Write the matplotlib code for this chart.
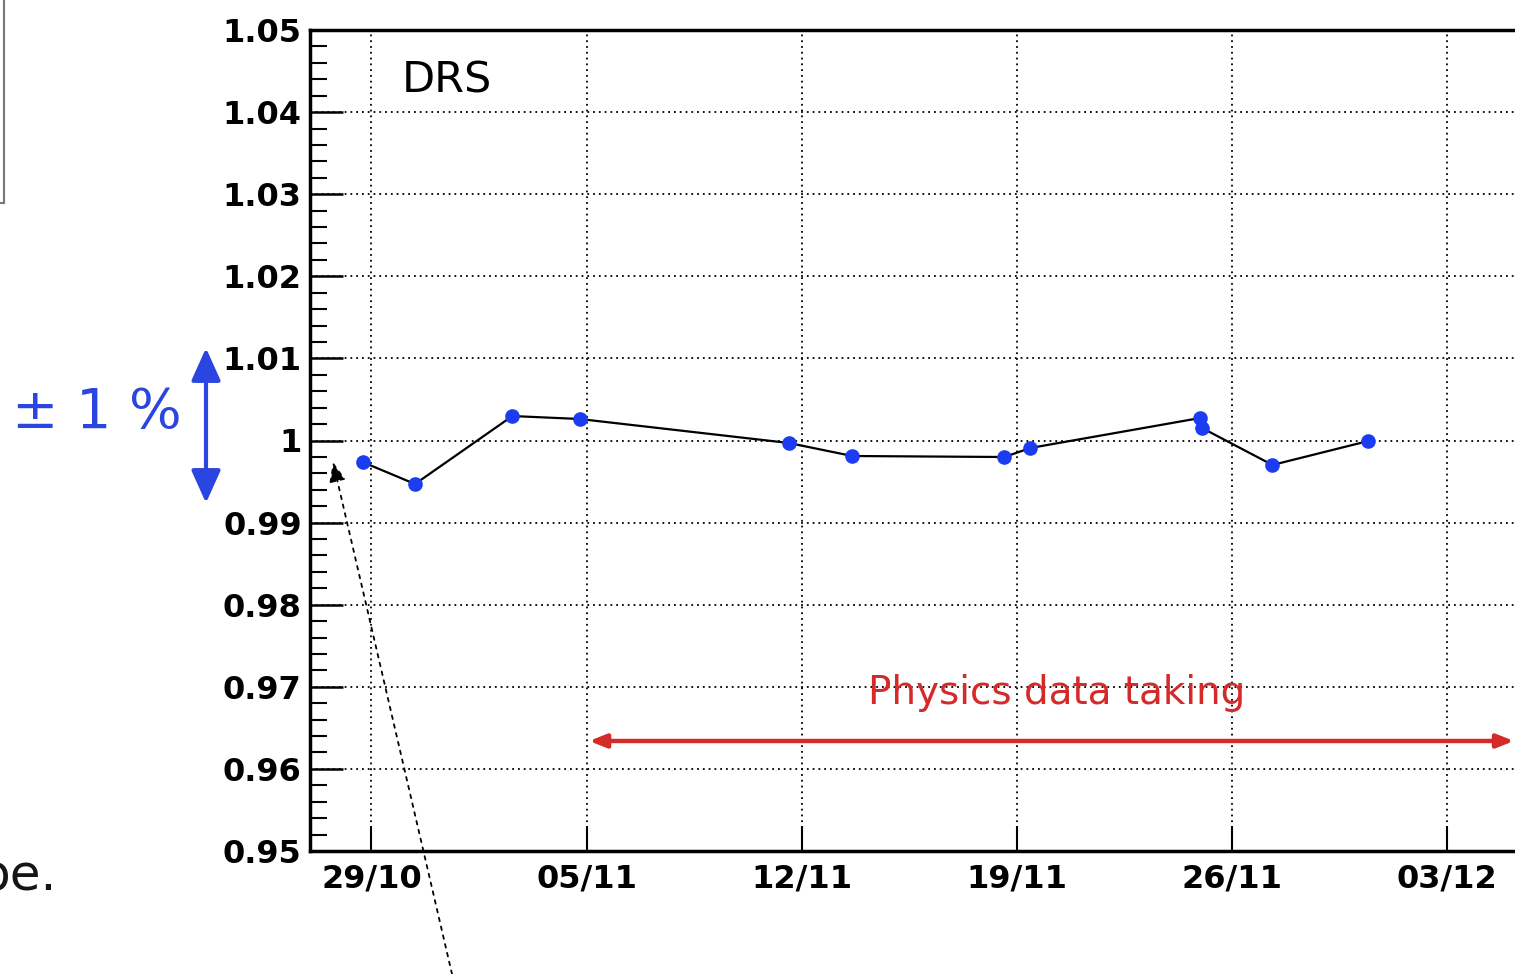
import matplotlib
matplotlib.use("Agg")
import matplotlib.pyplot as plt
import matplotlib.dates as mdates
from matplotlib.ticker import MultipleLocator
import numpy as np
import pandas as pd

# DRS gain stability, normalised to 1
dates = ["2009-10-28 17:00", "2009-10-30 10:00", "2009-11-02 14:00", "2009-11-04 18:30",
         "2009-11-11 13:45", "2009-11-13 15:30", "2009-11-18 14:10", "2009-11-19 10:30",
         "2009-11-24 23:00", "2009-11-25 00:30", "2009-11-27 07:30", "2009-11-30 10:20"]
ratio = [0.99738, 0.99470, 1.00298, 1.00262, 0.99970, 0.99811,
         0.99799, 0.99909, 1.00274, 1.00152, 0.99702, 0.99994]
ratio_err = [0.0002, 0.0004, 0.0005, 0.0003, 0.0002, 0.0002,
             0.0002, 0.0002, 0.0002, 0.0002, 0.0002, 0.0002]

x_range = ["2009-10-27 00:00", "2009-12-08 00:00"]
y_range = [0.95, 1.05]
physics_start = "2009-11-05 02:00"
physics_end = "2009-12-05 04:00"

W, H = 1515, 974
fig = plt.figure(figsize=(W / 100, H / 100), dpi=100)


def fpx(x, y):
    # pixel position (from top-left) to figure fraction
    return x / W, 1 - y / H


ax = fig.add_axes([310 / W, (H - 851) / H, 1291 / W, 821 / H])

t = pd.to_datetime(dates)
ax.errorbar(t, ratio, yerr=ratio_err, fmt="o-", color="black", lw=1.6,
            ecolor="#1b3cf0", elinewidth=1.5, capsize=0,
            mfc="#1b3cf0", mec="#1b3cf0", ms=9.5, zorder=5)

ax.set_xlim(pd.to_datetime(x_range))
ax.set_ylim(y_range)

ax.xaxis.set_major_locator(mdates.WeekdayLocator(byweekday=mdates.TH))
ax.xaxis.set_major_formatter(mdates.DateFormatter("%d/%m"))
ax.yaxis.set_major_locator(MultipleLocator(0.01))
ax.yaxis.set_minor_locator(MultipleLocator(0.002))
ax.yaxis.set_major_formatter(plt.FuncFormatter(lambda v, p: "1" if abs(v - 1) < 1e-9 else f"{v:.2f}"))

ax.tick_params(axis="x", which="major", direction="in", length=18, width=1.5, pad=9,
               labelsize=23)
ax.tick_params(axis="y", which="major", direction="in", length=24, width=1.8, pad=6,
               labelsize=23)
ax.tick_params(axis="y", which="minor", direction="in", length=12, width=1.5)
for lab in ax.get_xticklabels() + ax.get_yticklabels():
    lab.set_fontweight("bold")
    lab.set_family("DejaVu Sans")

ax.grid(True, which="major", color="black", ls=(0, (1, 2.2)), lw=1.3)
for side in ["left", "bottom", "top"]:
    ax.spines[side].set_linewidth(2.5)
ax.spines["right"].set_visible(False)

ax.text(pd.Timestamp("2009-10-30 00:00"), 1.0439, "DRS", fontsize=31,
        family="DejaVu Sans", va="center", ha="left")

# physics run period
ax.annotate("", xy=(pd.Timestamp(physics_start), 0.9634),
            xytext=(pd.Timestamp(physics_end), 0.9634),
            arrowprops=dict(arrowstyle="<|-|>,head_length=1.0,head_width=0.4",
                            color="#d42a2a", lw=3.2, shrinkA=0, shrinkB=0),
            annotation_clip=False)
ax.text(pd.Timestamp("2009-11-20 07:00"), 0.9692, "Physics data taking",
        fontsize=28, color="#d42a2a", family="DejaVu Sans", ha="center", va="center")

# +-1 % band marker left of the axis
fig.text(*fpx(97, 413), "± 1 %", fontsize=40, color="#2b45e0",
         family="DejaVu Sans", ha="center", va="center")
fig.add_artist(matplotlib.patches.FancyArrowPatch(
    fpx(206, 348), fpx(206, 503), transform=fig.transFigure,
    arrowstyle="<|-|>,head_length=1.0,head_width=0.45", color="#2b45e0",
    lw=3, shrinkA=0, shrinkB=0, mutation_scale=20))

# dotted pointer from below
fig.add_artist(matplotlib.patches.FancyArrowPatch(
    fpx(452, 974), fpx(333, 462), transform=fig.transFigure,
    arrowstyle="-|>,head_length=0.6,head_width=0.25", color="black",
    lw=1.3, ls=(0, (2, 3)), shrinkA=0, shrinkB=0, mutation_scale=20))

# pieces of neighbouring slide content
fig.add_artist(matplotlib.lines.Line2D([4 / W, 4 / W], [1, 1 - 203 / H],
                                       transform=fig.transFigure, color="#777777", lw=1.5))
fig.add_artist(matplotlib.lines.Line2D([0, 4 / W], [1 - 203 / H, 1 - 203 / H],
                                       transform=fig.transFigure, color="#777777", lw=1.5))
fig.text(*fpx(57, 890), "pe.", fontsize=36, color="#151515",
         family="DejaVu Sans", ha="right", va="baseline")

fig.savefig("out.png", dpi=100)
